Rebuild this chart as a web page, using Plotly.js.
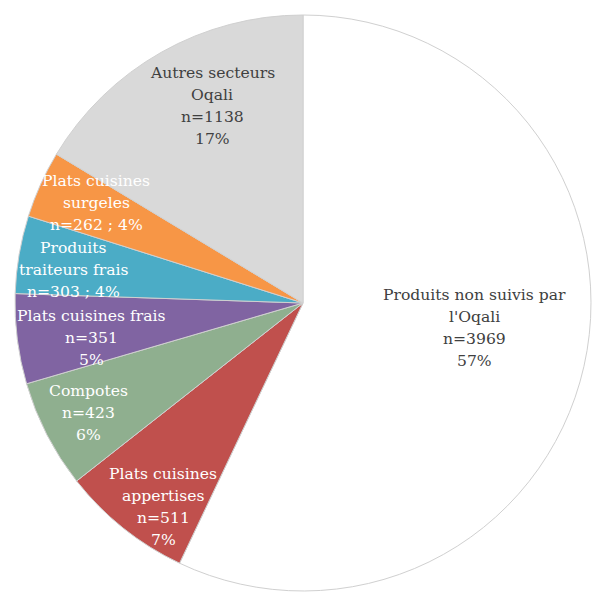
<!DOCTYPE html>
<html><head><meta charset="utf-8">
<script src="https://cdn.plot.ly/plotly-3.0.1.min.js"></script>
<style>html,body{margin:0;padding:0;background:#fff}#c{width:592px;height:593px}</style>
</head><body><div id="c"></div>
<script>
const categories = ["Produits non suivis par l'Oqali","Plats cuisines appertises","Compotes","Plats cuisines frais","Produits traiteurs frais","Plats cuisines surgeles","Autres secteurs Oqali"];
const values = [3969,511,423,351,303,262,1138];
const labelLines = [
  ["Produits non suivis par","l'Oqali","n=3969","57%"],
  ["Plats cuisines","appertises","n=511","7%"],
  ["Compotes","n=423","6%"],
  ["Plats cuisines frais","n=351","5%"],
  ["Produits","traiteurs frais","n=303 ; 4%"],
  ["Plats cuisines","surgeles","n=262 ; 4%"],
  ["Autres secteurs","Oqali","n=1138","17%"]
];
const colors = ["#FFFFFF","#C0504D","#8FAF8F","#8064A2","#4BACC6","#F79646","#D9D9D9"];
const textColors = ["#404040","#FFFFFF","#FFFFFF","#FFFFFF","#FFFFFF","#FFFFFF","#404040"];
// label block centres in pixels
const labelPos = [[474,328],[163,507],[88,413],[91,338],[73,270],[96,203],[212,106]];

const W=592,H=593, cx=303, cy=303, r=288, lh=21.8;
const ann = [];
labelLines.forEach((lines,i)=>{
  const n=lines.length;
  lines.forEach((t,j)=>{
    const y = labelPos[i][1] + (j-(n-1)/2)*lh;
    ann.push({text:t, xref:'paper', yref:'paper', x:labelPos[i][0]/W, y:1-y/H,
      xanchor:'center', yanchor:'middle', showarrow:false, align:'center',
      font:{family:'DejaVu Serif', size:15.6, color:textColors[i]}});
  });
});
Plotly.newPlot('c',[{
  type:'pie', labels:categories, values:values, sort:false, direction:'clockwise', rotation:0,
  marker:{colors:colors, line:{color:'#D0D0D0', width:1}},
  textinfo:'none', hoverinfo:'none', showlegend:false,
  domain:{x:[(cx-r)/W,(cx+r)/W], y:[1-(cy+r)/H,1-(cy-r)/H]}
}],{
  width:W,height:H, margin:{l:0,r:0,t:0,b:0}, paper_bgcolor:'#fff', showlegend:false,
  annotations:ann
},{displayModeBar:false, staticPlot:true});
</script></body></html>
